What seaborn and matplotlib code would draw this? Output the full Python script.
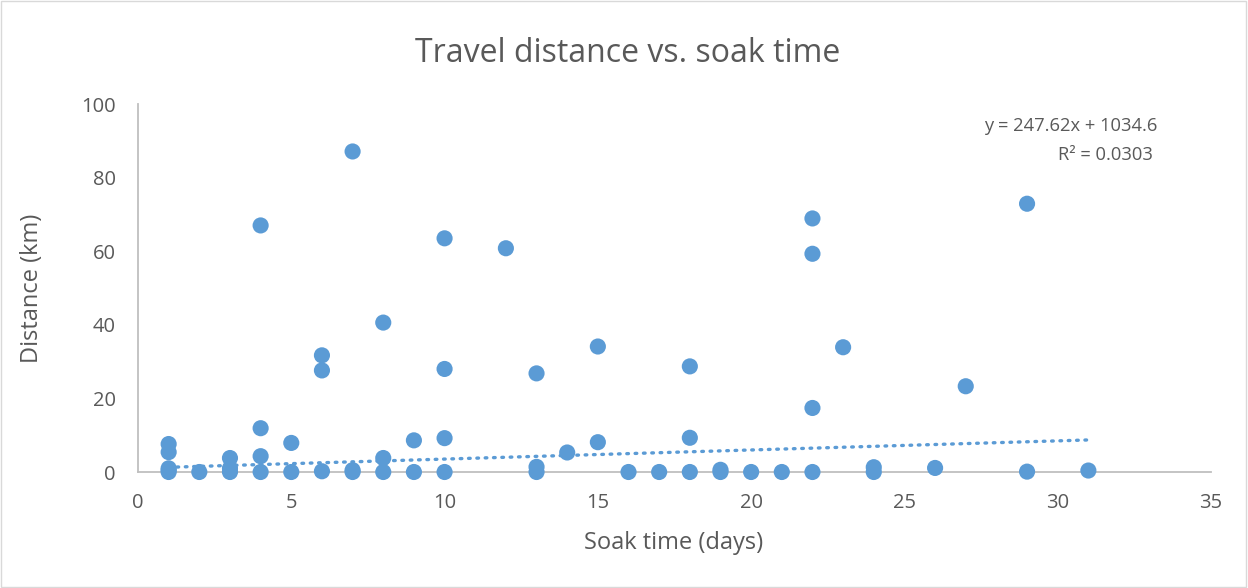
import pandas as pd
import numpy as np
import seaborn as sns
import matplotlib.pyplot as plt

# soak time (days) and travel distance (km)
soak_days = [1, 1, 1, 1, 1, 2, 3, 3, 3, 4, 4, 4, 4, 5, 5, 6, 6, 6,
             7, 7, 7, 8, 8, 8, 9, 9, 10, 10, 10, 10, 12, 13, 13, 13,
             14, 15, 15, 16, 17, 18, 18, 18, 19, 19, 20, 21, 22, 22,
             22, 22, 23, 24, 24, 26, 27, 29, 29, 31]
distance_km = [7.6, 5.4, 1.0, 0.5, 0.0, 0.0, 3.8, 1.0, 0.0, 67.0, 11.9, 4.3, 0.0, 7.9, 0.0, 31.7, 27.6, 0.2,
               87.1, 0.5, 0.0, 40.6, 3.8, 0.0, 8.6, 0.0, 63.5, 28.0, 9.2, 0.0, 60.8, 26.8, 1.4, 0.0,
               5.3, 34.1, 8.1, 0.0, 0.0, 28.7, 9.3, 0.0, 0.6, 0.0, 0.0, 0.0, 68.9, 59.3, 17.4,
               0.0, 33.9, 1.3, 0.0, 1.1, 23.3, 72.9, 0.1, 0.4]

# trendline as printed on the chart (metres)
slope_m = 247.62
intercept_m = 1034.6
r_squared = 0.0303

df = pd.DataFrame({"soak": soak_days, "dist": distance_km})

blue = "#5B9BD5"
grey_text = "#595959"

sns.set_style("white")
plt.rcParams["font.family"] = ["Open Sans", "DejaVu Sans"]

W, H = 1248, 588
fig = plt.figure(figsize=(W / 100, H / 100), dpi=100)
ax = fig.add_axes([138 / W, 1 - 472 / H, (1211 - 138) / W, (472 - 104) / H])

sns.scatterplot(x="soak", y="dist", data=df, ax=ax, color=blue, s=135,
                edgecolor="none", zorder=3, clip_on=False)

tx = np.array([min(soak_days), max(soak_days)])
ty = (slope_m * tx + intercept_m) / 1000
ax.plot(tx, ty, color=blue, lw=2.4, linestyle=(0, (0.5, 2.0)),
        dash_capstyle="round", zorder=2)

ax.set_xlim(0, 35)
ax.set_ylim(0, 100)
ax.set_xticks(range(0, 36, 5))
ax.set_yticks(range(0, 101, 20))
ax.tick_params(length=0, labelsize=14.5, colors=grey_text)
ax.tick_params(axis="x", pad=15)
ax.tick_params(axis="y", pad=16)

for side in ["top", "right"]:
    ax.spines[side].set_visible(False)
for side in ["left", "bottom"]:
    ax.spines[side].set_color("#BFBFBF")
    ax.spines[side].set_linewidth(1.3)

ax.set_xlabel("")
ax.set_ylabel("")
fig.text(674 / W, 1 - 543 / H, "Soak time (days)", fontsize=17, color=grey_text,
         ha="center", va="center")
fig.text(32 / W, 1 - 288 / H, "Distance (km)", fontsize=17, color=grey_text,
         ha="center", va="center", rotation=90)
fig.text(628 / W, 1 - 62 / H, "Travel distance vs. soak time", fontsize=23,
         color=grey_text, ha="center", va="baseline")

fig.text(1157 / W, 1 - 126 / H, f"y = {slope_m}x + {intercept_m}",
         ha="right", va="center", fontsize=13.2, color=grey_text)
fig.text(1153 / W, 1 - 155 / H, f"R² = {r_squared}",
         ha="right", va="center", fontsize=13.2, color=grey_text)

fig.patches.append(plt.Rectangle((0.001, 0.001), 0.997, 0.997, transform=fig.transFigure,
                                 fill=False, edgecolor="#D9D9D9", lw=1))

fig.savefig("out.png", dpi=100)
